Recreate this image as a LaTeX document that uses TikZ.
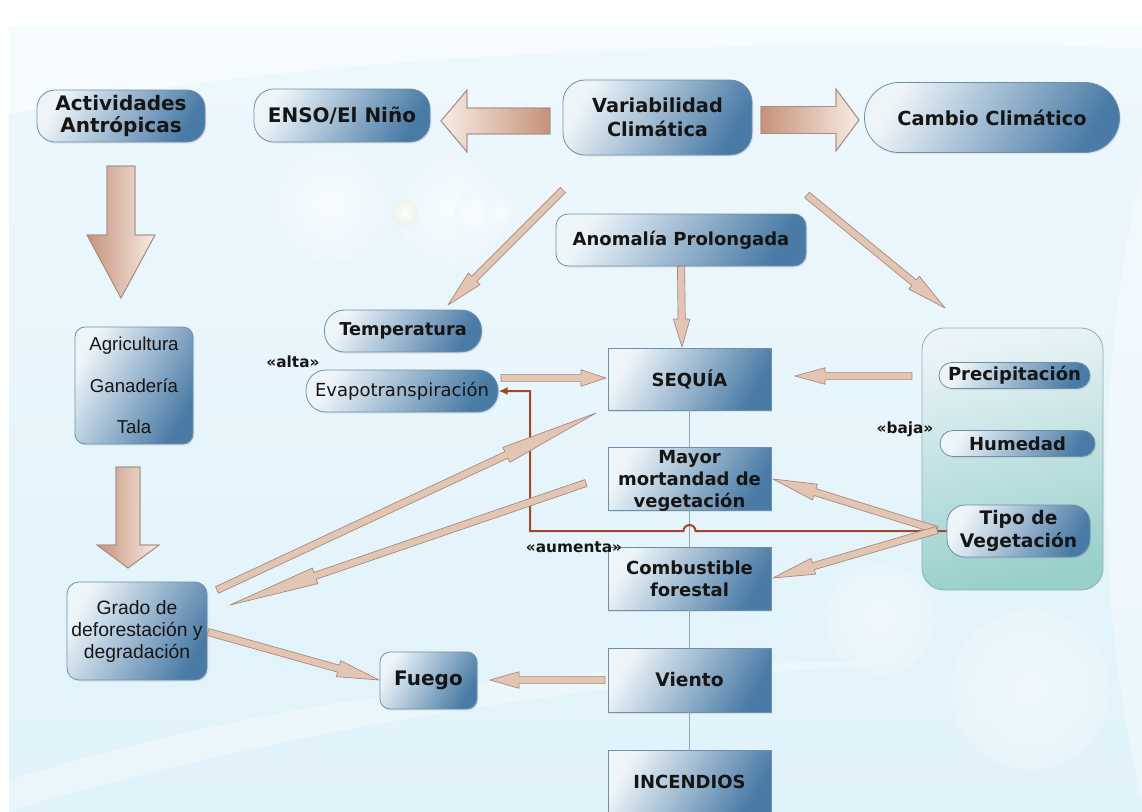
\documentclass[tikz,border=0pt]{standalone}
\usepackage{fontspec}
\setmainfont{DejaVu Sans}
\newfontfamily\arialf{Liberation Sans}
\usetikzlibrary{calc,arrows.meta,shadows}

\definecolor{boxL}{HTML}{EEF5F9}
\definecolor{boxM}{HTML}{BCD2E3}
\definecolor{boxR}{HTML}{4A7BA6}
\definecolor{boxE}{HTML}{6F8FA8}
\definecolor{ribF}{HTML}{E3C5B4}
\definecolor{ribD}{HTML}{A88676}
\definecolor{rust}{HTML}{A0492A}
\definecolor{bgT}{HTML}{EEF8FD}
\definecolor{bgB}{HTML}{E0F2FA}
\definecolor{txt}{HTML}{151515}
\definecolor{gline}{HTML}{8FA6B6}
\definecolor{blkL}{HTML}{F8ECE4}
\definecolor{blkD}{HTML}{C6927A}
\definecolor{blkE}{HTML}{A69086}
\definecolor{panT}{HTML}{EAF4F8}
\definecolor{panM}{HTML}{CFE8EC}
\definecolor{panB}{HTML}{98CFCB}
\definecolor{panE}{HTML}{92AEB6}
\definecolor{bubY}{HTML}{EEF3E2}

\newcommand\fntA{\bfseries\fontsize{15}{16.5}\selectfont}
\newcommand\fntB{\bfseries\fontsize{14.5}{18}\selectfont}
\newcommand\fntC{\bfseries\fontsize{13.5}{16.3}\selectfont}
\newcommand\fntL{\bfseries\fontsize{11.5}{13}\selectfont}

\tikzset{
  bx/.style={draw=boxE, line width=0.6pt, left color=boxL, middle color=boxM, right color=boxR,
    shading angle=60, text=txt, align=center, inner sep=0pt,
    drop shadow={shadow xshift=1pt, shadow yshift=-1.2pt, opacity=0.15}},
  ribbon/.style={fill=ribF, draw=ribD, line width=0.5pt, line join=round},
  blk/.style={draw=blkE, line width=0.6pt, line join=miter},
  lbl/.style={text=txt, font=\fntL, inner sep=0pt},
  gconn/.style={draw=gline, line width=0.8pt},
  rconn/.style={draw=rust, line width=1.5pt, -{Latex[length=7pt,width=6pt]}},
}

% ribbon arrow: start, end, head length (pt)
\newcommand\ribbon[3]{%
  \filldraw[ribbon] let \p1=(#1), \p2=(#2), \n1={atan2(\y2-\y1,\x2-\x1)},
    \p3=($(\p2)!#3!(\p1)$) in
    ($(\p1)+(\n1+90:2.7pt)$) -- ($(\p3)+(\n1+90:2.7pt)$) -- ($(\p3)+(\n1+90:6.2pt)$) --
    (\p2) -- ($(\p3)+(\n1-90:6.2pt)$) -- ($(\p3)+(\n1-90:2.7pt)$) --
    ($(\p1)+(\n1-90:2.7pt)$) -- cycle;}

\begin{document}
\begin{tikzpicture}[x=0.75pt,y=-0.75pt]
\useasboundingbox (0,0) rectangle (1142,811);
% ---------- background ----------
\fill[white] (0,0) rectangle (1142,811);
\shade[top color=bgT, bottom color=bgB] (9,26) rectangle (1142,811);
\fill[white,opacity=0.5] (9,26) -- (1142,26) -- (1142,48) .. controls (800,36) and (300,50) .. (9,115) -- cycle;
\fill[white,opacity=0.35] (9,780) .. controls (300,690) and (600,660) .. (920,662) .. controls (600,680) and (300,725) .. (9,811) -- cycle;
\fill[white,opacity=0.35] (1142,170) .. controls (1098,350) and (1092,600) .. (1142,800) -- cycle;
\shade[inner color=white, outer color=bgT, opacity=0.6] (330,205) circle[radius=58];
\shade[inner color=white, outer color=bgT, opacity=0.6] (452,210) circle[radius=55];
\shade[inner color=white, outer color=bgT, opacity=0.6] (478,214) circle[radius=24];
\shade[inner color=white, outer color=bgT, opacity=0.6] (500,213) circle[radius=16];
\shade[inner color=white, outer color=bubY, opacity=0.8] (405,213) circle[radius=13];
\shade[inner color=white, outer color=bgT, opacity=0.45] (880,620) circle[radius=55];
\shade[inner color=white, outer color=bgT, opacity=0.45] (1030,690) circle[radius=80];

% ---------- right panel ----------
\node[draw=panE, line width=0.6pt, rounded corners=16.5pt,
      minimum width=135.75pt, minimum height=196.5pt,
      top color=panT, middle color=panM, bottom color=panB,
      shading angle=12] (panel) at (1012.5,459) {};

% ---------- nodes ----------
\node[bx, rounded corners=13.5pt, minimum width=126pt, minimum height=39pt, font=\fntA] (act) at (121,116) {Actividades\\Antrópicas};
\node[bx, rounded corners=15pt, minimum width=132pt, minimum height=39.75pt, font=\fntA] (enso) at (342,115.5) {ENSO/El Niño};
\node[bx, rounded corners=16.5pt, minimum width=141.75pt, minimum height=56.25pt, font=\fntB] (var) at (657.5,117.5) {Variabilidad\\Climática};
\node[bx, rounded corners=26pt, minimum width=191.25pt, minimum height=52.5pt, font=\fntB] (cambio) at (992,117.5) {Cambio Climático};
\node[bx, rounded corners=9pt, minimum width=187.5pt, minimum height=39pt, font=\fntC] (anom) at (681,240) {Anomalía Prolongada};
\node[bx, rounded corners=15pt, minimum width=117.75pt, minimum height=31.5pt, font=\bfseries\fontsize{13.3}{15}\selectfont] (temp) at (403,331) {Temperatura};
\node[bx, rounded corners=15pt, minimum width=144pt, minimum height=31.5pt, font=\fontsize{13.5}{15}\selectfont] (evapo) at (402,391) {Evapotranspiración};
\node[bx, minimum width=122.25pt, minimum height=46.5pt, font=\fntC] (seq) at (689.5,379) {SEQUÍA};
\node[bx, minimum width=122.25pt, minimum height=47.25pt] (mayor) at (689.5,478.5) {};
\node[text=txt, font=\fntC, align=center, inner sep=0pt] (mayortxt) at (689.5,481) {Mayor\\mortandad de\\vegetación};
\node[bx, minimum width=122.25pt, minimum height=47.25pt, font=\fntC] (comb) at (689.5,578.5) {Combustible\\forestal};
\node[bx, minimum width=122.25pt, minimum height=48pt, font=\bfseries\fontsize{14}{16}\selectfont] (viento) at (689.5,680) {Viento};
\node[bx, minimum width=122.25pt, minimum height=48pt, font=\fntC] (inc) at (689.5,782) {INCENDIOS};
\node[bx, rounded corners=7.5pt, minimum width=72.75pt, minimum height=42.75pt, font=\bfseries\fontsize{15}{16}\selectfont] (fuego) at (428.5,680.5) {Fuego};
\node[bx, rounded corners=7.5pt, minimum width=88.5pt, minimum height=87.75pt, font=\arialf\fontsize{14}{31}\selectfont] (agri) at (134,385.5) {Agricultura\\Ganadería\\Tala};
\node[bx, rounded corners=9pt, minimum width=105pt, minimum height=73.5pt, font=\arialf\fontsize{14.5}{16.5}\selectfont] (grado) at (137,631) {Grado de\\deforestación y\\degradación};
\node[bx, rounded corners=9.75pt, minimum width=113.25pt, minimum height=19.5pt, font=\fntC] (precip) at (1014.5,375.5) {Precipitación};
\node[bx, rounded corners=9.75pt, minimum width=116.25pt, minimum height=19.5pt, font=\fntC] (hum) at (1017.5,443.5) {Humedad};
\node[bx, rounded corners=13.5pt, minimum width=107.25pt, minimum height=39pt, font=\bfseries\fontsize{14}{17}\selectfont] (tipo) at (1018.5,531) {Tipo de\\Vegetación};

% ---------- labels ----------
\node[lbl] (alta) at (293,362) {«alta»};
\node[lbl] (baja) at (905,429) {«baja»};
\node[lbl] (aumenta) at (574,547) {«aumenta»};

% ---------- thin vertical connectors ----------
\draw[gconn] (seq.south) -- (mayor.north);
\draw[gconn] (mayor.south) -- (comb.north);
\draw[gconn] (comb.south) -- (viento.north);
\draw[gconn] (viento.south) -- (inc.north);

% ---------- rust connector with hop ----------
\coordinate (hopR) at (695.5,531);
\coordinate (rc1) at (530,531);
\coordinate (rc2) at (530,391);
\draw[rconn] (tipo.west) -- (hopR) arc[start angle=0, end angle=180, radius=4.5pt] -- (rc1) -- (rc2) -- (evapo.east);

% ---------- block arrows ----------
\coordinate (bL) at (441,121);
\shade[blk, left color=blkL, right color=blkD, shading angle=90]
  (bL) -- ++(26,-31) -- ++(0,18) -- ++(83,0) -- ++(0,26) -- ++(-83,0) -- ++(0,18) -- cycle;
\draw[blk] (bL) -- ++(26,-31) -- ++(0,18) -- ++(83,0) -- ++(0,26) -- ++(-83,0) -- ++(0,18) -- cycle;
\coordinate (bR) at (859,120);
\shade[blk, left color=blkD, right color=blkL]
  (bR) -- ++(-23,-31) -- ++(0,17.5) -- ++(-75,0) -- ++(0,27) -- ++(75,0) -- ++(0,17.5) -- cycle;
\draw[blk] (bR) -- ++(-23,-31) -- ++(0,17.5) -- ++(-75,0) -- ++(0,27) -- ++(75,0) -- ++(0,17.5) -- cycle;
\coordinate (bD1) at (121,298);
\shade[blk, left color=blkD, right color=blkL]
  (bD1) -- ++(-34,-63) -- ++(20,0) -- ++(0,-69) -- ++(28,0) -- ++(0,69) -- ++(20,0) -- cycle;
\draw[blk] (bD1) -- ++(-34,-63) -- ++(20,0) -- ++(0,-69) -- ++(28,0) -- ++(0,69) -- ++(20,0) -- cycle;
\coordinate (bD2) at (128,568);
\shade[blk, left color=blkD, right color=blkL]
  (bD2) -- ++(-31,-23) -- ++(19,0) -- ++(0,-78) -- ++(24,0) -- ++(0,78) -- ++(19,0) -- cycle;
\draw[blk] (bD2) -- ++(-31,-23) -- ++(19,0) -- ++(0,-78) -- ++(24,0) -- ++(0,78) -- ++(19,0) -- cycle;

% ---------- ribbon arrows ----------
\coordinate (r1s) at (563,190);   \coordinate (r1e) at (448,305);
\coordinate (r2s) at (807,195);   \coordinate (r2e) at (945,308);
\coordinate (r3s) at (anom.south); \coordinate (r3e) at (682,347);
\coordinate (r4s) at (501,378);   \coordinate (r4e) at (606,378);
\coordinate (r5s) at (912,376);   \coordinate (r5e) at (795,376);
\coordinate (r6s) at (217,590);   \coordinate (r6e) at (596,413);
\coordinate (r7s) at (586,483);   \coordinate (r7e) at (230,605);
\coordinate (r8s) at (937,530);   \coordinate (r8e) at (773,479);
\coordinate (r9s) at (937,530);   \coordinate (r9e) at (773,578);
\coordinate (r10s) at (208,632);  \coordinate (r10e) at (379,680);
\coordinate (r11s) at (605,680);  \coordinate (r11e) at (490,680);
\ribbon{r1s}{r1e}{27.75pt}
\ribbon{r2s}{r2e}{30pt}
\ribbon{r3s}{r3e}{21pt}
\ribbon{r4s}{r4e}{18.75pt}
\ribbon{r5s}{r5e}{22.5pt}
\ribbon{r6s}{r6e}{74.25pt}
\ribbon{r7s}{r7e}{67.5pt}
\ribbon{r8s}{r8e}{33pt}
\ribbon{r9s}{r9e}{31.5pt}
\ribbon{r10s}{r10e}{31.5pt}
\ribbon{r11s}{r11e}{21.75pt}
\end{tikzpicture}
\end{document}
